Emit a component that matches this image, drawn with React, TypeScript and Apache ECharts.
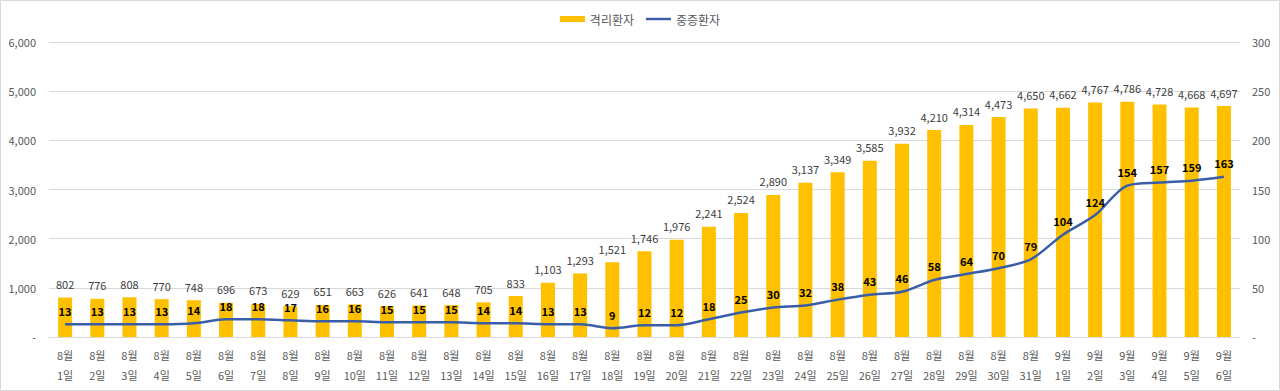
import React, { useEffect, useRef } from "react";
import * as echarts from "echarts";

const categories = [
  "8월\n1일", "8월\n2일", "8월\n3일", "8월\n4일", "8월\n5일", "8월\n6일", "8월\n7일", "8월\n8일", "8월\n9일", "8월\n10일",
  "8월\n11일", "8월\n12일", "8월\n13일", "8월\n14일", "8월\n15일", "8월\n16일", "8월\n17일", "8월\n18일", "8월\n19일", "8월\n20일",
  "8월\n21일", "8월\n22일", "8월\n23일", "8월\n24일", "8월\n25일", "8월\n26일", "8월\n27일", "8월\n28일", "8월\n29일", "8월\n30일",
  "8월\n31일", "9월\n1일", "9월\n2일", "9월\n3일", "9월\n4일", "9월\n5일", "9월\n6일",
];
const isolated = [
  802, 776, 808, 770, 748, 696, 673, 629, 651, 663, 626, 641, 648, 705, 833, 1103, 1293, 1521, 1746, 1976,
  2241, 2524, 2890, 3137, 3349, 3585, 3932, 4210, 4314, 4473, 4650, 4662, 4767, 4786, 4728, 4668, 4697,
];
const severe = [
  13, 13, 13, 13, 14, 18, 18, 17, 16, 16, 15, 15, 15, 14, 14, 13, 13, 9, 12, 12,
  18, 25, 30, 32, 38, 43, 46, 58, 64, 70, 79, 104, 124, 154, 157, 159, 163,
];
const seriesNames = ["격리환자", "중증환자"];

const FONT = "'Noto Sans CJK KR', 'Noto Sans', sans-serif";
const LINE_COLOR = "#3A5DA8";

export default function App() {
  const ref = useRef<HTMLDivElement>(null);
  useEffect(() => {
    document.body.style.margin = "0";
    const chart = echarts.init(ref.current!, null, { renderer: "svg" });
    const fmt = (v: number) => (v === 0 ? "-" : v.toLocaleString("en-US"));
    chart.setOption({
      animation: false,
      textStyle: { fontFamily: FONT },
      graphic: [
        {
          type: "rect",
          shape: { x: 0.5, y: 0.5, width: 1279, height: 390 },
          style: { fill: "none", stroke: "#d9d9d9", lineWidth: 1 },
          silent: true,
        },
      ],
      legend: {
        top: 8,
        left: "center",
        itemGap: 12,
        itemWidth: 25,
        itemHeight: 6,
        textStyle: { fontSize: 12, color: "#595959", fontFamily: FONT },
        data: [
          { name: seriesNames[0], icon: "rect" },
          { name: seriesNames[1], icon: "path://M0,0H26V2.5H0Z", itemStyle: { color: LINE_COLOR } },
        ],
      },
      grid: { left: 49, right: 40, top: 42, bottom: 54, containLabel: false },
      xAxis: {
        type: "category",
        data: categories,
        axisLine: { lineStyle: { color: "#d9d9d9" } },
        axisTick: { show: false },
        axisLabel: { color: "#595959", fontSize: 11, lineHeight: 20, margin: 8, interval: 0, fontFamily: FONT },
      },
      yAxis: [
        {
          type: "value",
          min: 0,
          max: 6000,
          interval: 1000,
          axisLine: { show: false },
          axisTick: { show: false },
          splitLine: { lineStyle: { color: "#d9d9d9" } },
          axisLabel: { color: "#595959", fontSize: 11, margin: 13, formatter: fmt, fontFamily: FONT },
        },
        {
          type: "value",
          min: 0,
          max: 300,
          interval: 50,
          axisLine: { show: false },
          axisTick: { show: false },
          splitLine: { show: false },
          axisLabel: { color: "#595959", fontSize: 11, margin: 12, formatter: fmt, fontFamily: FONT },
        },
      ],
      series: [
        {
          name: seriesNames[0],
          type: "bar",
          data: isolated,
          barWidth: 14,
          itemStyle: { color: "#FFC000" },
          label: {
            show: true,
            position: "top",
            distance: 8,
            color: "#404040",
            fontSize: 11,
            lineHeight: 11,
            fontFamily: FONT,
            formatter: (p: any) => p.value.toLocaleString("en-US"),
          },
        },
        {
          name: seriesNames[1],
          type: "line",
          yAxisIndex: 1,
          data: severe,
          smooth: 0.3,
          symbol: "circle",
          symbolSize: 0.1,
          showSymbol: true,
          lineStyle: { color: LINE_COLOR, width: 2.5 },
          itemStyle: { color: LINE_COLOR },
          label: {
            show: true,
            position: "top",
            distance: 8,
            color: "#000",
            fontWeight: "bold",
            fontSize: 11,
            lineHeight: 11,
            fontFamily: FONT,
          },
          labelLayout: { hideOverlap: false },
        },
      ],
    });
    return () => chart.dispose();
  }, []);
  return <div ref={ref} style={{ width: 1280, height: 391 }} />;
}
